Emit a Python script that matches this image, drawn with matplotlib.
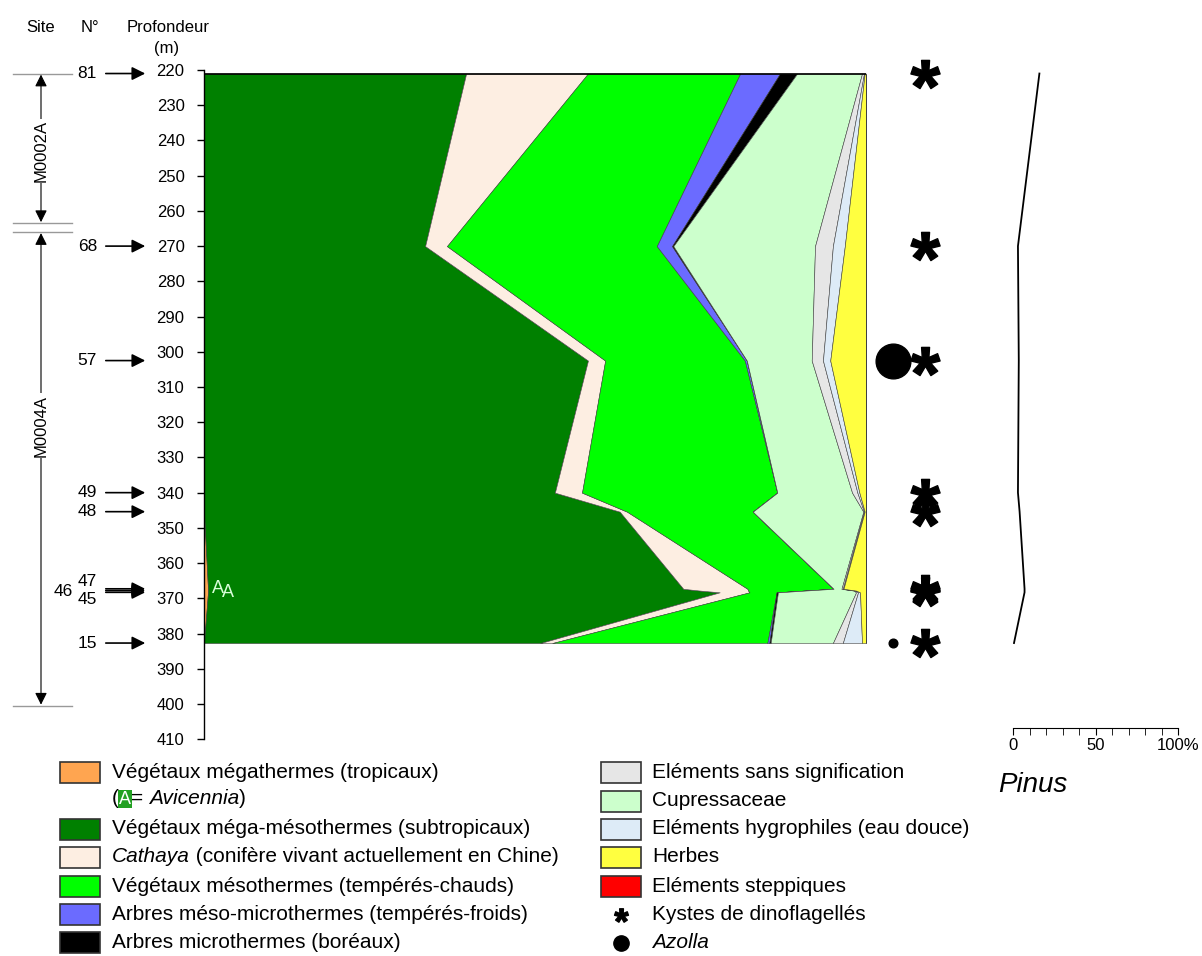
import numpy as np
import matplotlib.pyplot as plt
from matplotlib.patches import Rectangle
from matplotlib.path import Path
from matplotlib.textpath import TextPath
from matplotlib.font_manager import FontProperties

plt.rcParams['font.family'] = ['Liberation Sans', 'DejaVu Sans']

# --- data ---
samples = ["81", "68", "57", "49", "48", "47", "46", "45", "15"]
depth = [221, 270, 302.5, 340, 345.4, 367.3, 367.8, 368.3, 382.7]

megathermes = [0, 0, 0, 0, 0, 0.6, 0.6, 0.6, 0]
mega_meso = [39.6, 33.4, 58.0, 53.0, 62.8, 71.8, 74.3, 77.3, 50.8]
cathaya = [18.4, 3.3, 2.6, 4.1, 1.1, 9.7, 7.3, 4.5, 1.8]
mesothermes = [23.0, 31.7, 21.1, 29.5, 19.0, 13.0, 8.6, 4.1, 32.5]
meso_micro = [6.0, 2.3, 0.3, 0, 0, 0, 0, 0, 0.3]
microthermes = [2.6, 0.2, 0, 0, 0, 0, 0, 0.2, 0.2]
cupressaceae = [9.8, 21.4, 9.8, 11.3, 16.7, 1.2, 7.4, 11.8, 9.4]
sans_signif = [0.3, 2.7, 1.7, 0.8, 0.1, 0.2, 0.2, 0.3, 1.5]
hygrophiles = [0.1, 1.8, 1.1, 0.3, 0.1, 0.1, 0.1, 0.3, 2.9]
herbes = [0.2, 3.2, 5.4, 1.0, 0.2, 3.4, 1.5, 0.9, 0.6]
steppiques = [0, 0, 0, 0, 0, 0, 0, 0, 0]

pinus = [16, 3, 3.5, 3, 4, 7, 7, 7, 0.6]
dinokystes = [1, 1, 1, 1, 1, 1, 1, 1, 1]
azolla = [0, 0, 1.0, 0, 0, 0, 0, 0, 0.25]
avicennia = [0, 0, 0, 0, 0, 1, 0, 1, 0]

sites = ["M0002A", "M0004A"]
site_top = [221, 266]
site_base = [263.5, 400.5]
site_label_depth = [243, 321]

# stacking order (left to right) with colours and legend text
groups = [
    (megathermes, '#FFA550', [("Végétaux mégathermes (tropicaux)", 'normal')]),
    (mega_meso, '#008000', [("Végétaux méga-mésothermes (subtropicaux)", 'normal')]),
    (cathaya, '#FDEEE2', [("Cathaya", 'italic'), (" (conifère vivant actuellement en Chine)", 'normal')]),
    (mesothermes, '#00FF00', [("Végétaux mésothermes (tempérés-chauds)", 'normal')]),
    (meso_micro, '#6B6BFF', [("Arbres méso-microthermes (tempérés-froids)", 'normal')]),
    (microthermes, '#000000', [("Arbres microthermes (boréaux)", 'normal')]),
    (cupressaceae, '#CCFFCC', [("Cupressaceae", 'normal')]),
    (sans_signif, '#E6E6E6', [("Eléments sans signification", 'normal')]),
    (hygrophiles, '#DDEBF7', [("Eléments hygrophiles (eau douce)", 'normal')]),
    (herbes, '#FFFF40', [("Herbes", 'normal')]),
    (steppiques, '#FF0000', [("Eléments steppiques", 'normal')]),
]

W, H = 1202, 956
fig = plt.figure(figsize=(W / 100, H / 100), dpi=100)


def fx(px):
    return px / W


y_top, y_bot = 70, 739.2  # pixel rows of 220 m and 410 m
ax_b = 1 - y_bot / H
ax_h = (y_bot - y_top) / H

# overlay in pixel coordinates for header and legend
ov = fig.add_axes([0, 0, 1, 1])
ov.set_xlim(0, W)
ov.set_ylim(H, 0)
ov.axis('off')

# main stacked diagram
ax = fig.add_axes([fx(204), ax_b, fx(866) - fx(204), ax_h])
ax.set_xlim(0, 100)
ax.set_ylim(410, 220)
total = np.sum([np.array(g[0], dtype=float) for g in groups], axis=0)
cum = np.zeros(len(depth))
for vals, color, _ in groups:
    v = np.array(vals, dtype=float) / total * 100
    ax.fill_betweenx(depth, cum, cum + v, facecolor=color, edgecolor='#404040', lw=0.4)
    cum = cum + v
ax.axhline(depth[0], color='black', lw=1.2)

# Avicennia marks
k = 0
for d, a, m in zip(depth, avicennia, megathermes):
    if a:
        ax.annotate("A", xy=(m, d), xytext=(3 + 7 * k, 0), textcoords='offset points',
                    color='#D8FFD8', fontsize=13, va='center', ha='left')
        k += 1

for s in ['top', 'right', 'bottom']:
    ax.spines[s].set_visible(False)
ax.spines['left'].set_linewidth(1)
ax.set_xticks([])
ax.set_yticks(range(220, 411, 10))
ax.tick_params(axis='y', length=5, width=1, pad=9, labelsize=12)

# left column: sample numbers, arrows, sites
ax_l = fig.add_axes([0, ax_b, fx(204), ax_h], sharey=ax)
ax_l.set_xlim(0, 204)
ax_l.axis('off')
label_shift = {"47": (0, -2.0), "46": (-24, 0.2), "45": (0, 2.0)}
for s, d in zip(samples, depth):
    dx, dd = label_shift.get(s, (0, 0))
    ax_l.text(97 + dx, d + dd, s, ha='right', va='center', fontsize=12.5)
    ax_l.annotate('', xy=(148, d), xytext=(103, d),
                  arrowprops=dict(arrowstyle='-|>', color='black', lw=1.2, mutation_scale=20))

for name, t, b, ld in zip(sites, site_top, site_base, site_label_depth):
    ax_l.annotate('', xy=(41, t + 0.3), xytext=(41, b - 0.3),
                  arrowprops=dict(arrowstyle='<|-|>', color='black', lw=0.8, mutation_scale=18,
                                  shrinkA=0, shrinkB=0))
    ax_l.plot([13, 72], [t, t], color='#999999', lw=1)
    ax_l.plot([13, 72], [b, b], color='#999999', lw=1)
    ax_l.text(41, ld, name, rotation=90, ha='center', va='center', fontsize=12,
              bbox=dict(facecolor='white', edgecolor='none', pad=1))

# asterisk glyph as a centred marker path
tp = TextPath((0, 0), '*', prop=FontProperties(family='Liberation Sans', weight='bold'))
verts = tp.vertices.copy()
codes = tp.codes
real = codes != Path.CLOSEPOLY
cx = (verts[real, 0].min() + verts[real, 0].max()) / 2
cy = (verts[real, 1].min() + verts[real, 1].max()) / 2
verts = verts - [cx, cy]
verts[~real] = 0
star = Path(verts, codes)

# marker column: Azolla and dinoflagellate cysts
ax_m = fig.add_axes([fx(866), ax_b, fx(966) - fx(866), ax_h], sharey=ax)
ax_m.set_xlim(0, 100)
ax_m.axis('off')
for d, c, a in zip(depth, dinokystes, azolla):
    if c:
        ax_m.plot([59], [d], marker=star, ms=21, color='black', ls='none', clip_on=False)
    if a:
        ax_m.plot([27], [d], marker='o', ms=25 * a, color='black', ls='none', clip_on=False)

# Pinus curve
ax_p = fig.add_axes([fx(1013), ax_b, fx(1178) - fx(1013), ax_h], sharey=ax)
ax_p.set_xlim(0, 100)
ax_p.plot(pinus, depth, color='black', lw=1.3)
for s in ['top', 'right', 'left']:
    ax_p.spines[s].set_visible(False)
ax_p.spines['bottom'].set_position(('data', 406.8))
ax_p.set_xticks([0, 50, 100])
ax_p.set_xticklabels(["0", "50", "100%"])
ax_p.set_xticks(range(0, 101, 10), minor=True)
ax_p.tick_params(axis='x', which='both', length=5, labelsize=12, pad=2)
ax_p.tick_params(axis='y', left=False, labelleft=False)
ov.text(998, 785, "Pinus", style='italic', fontsize=20, va='center', ha='left')

# header
ov.text(41, 27, "Site", ha='center', va='center', fontsize=12)
ov.text(90, 27, "N°", ha='center', va='center', fontsize=12)
ov.text(168, 27, "Profondeur", ha='center', va='center', fontsize=12)
ov.text(167, 48, "(m)", ha='center', va='center', fontsize=12)


# legend
def chain(x, y, parts, size=15):
    t = ov.text(x, y, parts[0][0], style=parts[0][1], fontsize=size, va='center', ha='left')
    for txt, st in parts[1:]:
        t = ov.annotate(txt, xy=(1, 0.5), xycoords=t, va='center', ha='left',
                        style=st, fontsize=size)
    return t


def swatch(x, y, color):
    ov.add_patch(Rectangle((x, y - 10.5), 40, 21, facecolor=color, edgecolor='#333333', lw=1.2))


left_rows = [772, 829, 857, 886, 914, 942]
for (vals, color, parts), y in zip(groups[:6], left_rows):
    swatch(60, y, color)
    chain(112, y, parts)
t = ov.text(112, 799, "(", fontsize=15, va='center', ha='left')
t = ov.annotate("A", xy=(1, 0.5), xycoords=t, va='center', ha='left', fontsize=13, color='white',
                bbox=dict(boxstyle='square,pad=0.05', facecolor='#22A022', edgecolor='none'))
chain_parts = [("= ", 'normal'), ("Avicennia", 'italic'), (")", 'normal')]
for txt, st in chain_parts:
    t = ov.annotate(txt, xy=(1, 0.5), xycoords=t, va='center', ha='left', style=st, fontsize=15)

right_rows = [772, 801, 829, 857, 886]
right_groups = [groups[7], groups[6], groups[8], groups[9], groups[10]]
for (vals, color, parts), y in zip(right_groups, right_rows):
    swatch(601, y, color)
    chain(652, y, parts)
ov.plot([621], [915], marker=star, ms=10, color='black', ls='none')
ov.text(652, 915, "Kystes de dinoflagellés", fontsize=15, va='center', ha='left')
ov.plot([621], [943], marker='o', ms=11, color='black', ls='none')
ov.text(652, 943, "Azolla", style='italic', fontsize=15, va='center', ha='left')

fig.savefig("out.png", dpi=100)
